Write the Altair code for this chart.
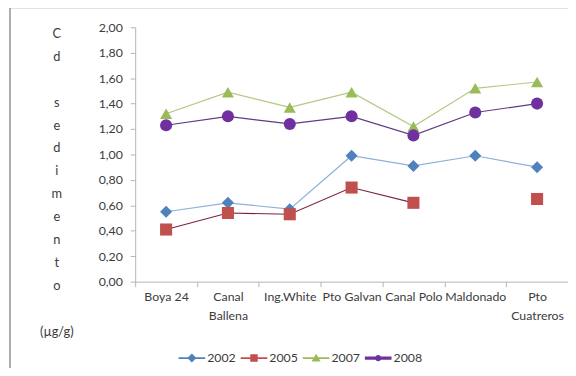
import altair as alt
import pandas as pd

stations = ["Boya 24", "Canal\nBallena", "Ing.White", "Pto Galvan",
            "Canal Polo", "Maldonado", "Pto\nCuatreros"]
years = ["2002", "2005", "2007", "2008"]
v2002 = [0.55, 0.62, 0.57, 0.99, 0.91, 0.99, 0.90]
v2005 = [0.41, 0.54, 0.53, 0.74, 0.62, None, 0.65]
v2007 = [1.32, 1.49, 1.37, 1.49, 1.22, 1.52, 1.57]
v2008 = [1.23, 1.30, 1.24, 1.30, 1.15, 1.33, 1.40]
y_ticks = [0.0, 0.2, 0.4, 0.6, 0.8, 1.0, 1.2, 1.4, 1.6, 1.8, 2.0]
y_title = ["C", "d", "\u2800", "s", "e", "d", "i", "m", "e", "n", "t", "o",
           "\u2800", "(\u00b5g/g)"]

marker_colors = ["#4f81bd", "#c0504d", "#9bbb59", "#7030a0"]
line_colors = ["#8db0d8", "#7d2340", "#b3c883", "#5e3b80"]
shapes = ["diamond", "square", "triangle-up", "circle"]
sizes = [150, 150, 170, 215]

legend_paths = [
    "M-1,-0.07H1V0.07H-1Z M0,-0.34L0.34,0L0,0.34L-0.34,0Z",
    "M-1,-0.07H1V0.07H-1Z M-0.28,-0.28H0.28V0.28H-0.28Z",
    "M-1,-0.07H1V0.07H-1Z M0,-0.32L0.34,0.26H-0.34Z",
    "M-1,-0.12H1V0.12H-1Z M-0.24,0A0.24,0.24 0 1,1 0.24,0A0.24,0.24 0 1,1 -0.24,0Z",
]

rows = []
for yr, vals in zip(years, [v2002, v2005, v2007, v2008]):
    for st, v in zip(stations, vals):
        rows.append({"station": st, "year": yr, "cd": v})
df = pd.DataFrame(rows)

FONT = "Lato, DejaVu Sans"
TXT = "#3c3c3c"
AX = "#b4b4b4"
FS = 12.5

x_enc = alt.X(
    "station:N", sort=stations, bandPosition=0.5,
    scale=alt.Scale(type="band", paddingInner=0, paddingOuter=0),
    axis=alt.Axis(title=None, labelAngle=0, tickBand="extent",
                  labelExpr="split(datum.label, '\\n')",
                  labelLineHeight=19, labelPadding=4, tickSize=5,
                  domainColor=AX, tickColor=AX, labelColor=TXT,
                  labelFontSize=FS, labelFont=FONT),
)
y_enc = alt.Y(
    "cd:Q",
    scale=alt.Scale(domain=[0, 2], nice=False, zero=True),
    axis=alt.Axis(values=y_ticks, grid=False,
                  labelExpr="replace(format(datum.value, '.2f'), '.', ',')",
                  tickSize=5, labelPadding=8,
                  domainColor=AX, tickColor=AX, labelColor=TXT,
                  labelFontSize=FS, labelFont=FONT,
                  title=y_title, titleAngle=0, titleAlign="center",
                  titleBaseline="top", titleX=-80, titleY=0,
                  titleLineHeight=23.3, titleFontWeight="normal",
                  titleFontSize=13, titleFont=FONT, titleColor=TXT),
)

lines = alt.Chart(df).mark_line(
    strokeWidth=1.2, invalid="break-paths-show-domains"
).encode(
    x=x_enc, y=y_enc,
    stroke=alt.Stroke("year:N", scale=alt.Scale(domain=years, range=line_colors),
                      legend=None),
)

points = alt.Chart(df).transform_filter("isValid(datum.cd)").mark_point(
    filled=True, opacity=1
).encode(
    x=x_enc, y=y_enc,
    color=alt.Color("year:N", scale=alt.Scale(domain=years, range=marker_colors),
                    legend=None),
    shape=alt.Shape("year:N", scale=alt.Scale(domain=years, range=shapes), legend=None),
    size=alt.Size("year:N", scale=alt.Scale(domain=years, range=sizes), legend=None),
)

leg = alt.Legend(
    title=None, orient="none", direction="horizontal",
    legendX=44, legendY=322, symbolSize=729, labelOffset=2,
    columnPadding=5, labelFontSize=FS, labelFont=FONT,
    labelColor=TXT, symbolStrokeWidth=0, symbolOpacity=1,
)
legend_layer = alt.Chart(df).transform_filter("false").mark_point(
    filled=True, opacity=1, size=729
).encode(
    color=alt.Color("year:N", scale=alt.Scale(domain=years, range=marker_colors),
                    legend=leg),
    shape=alt.Shape("year:N", scale=alt.Scale(domain=years, range=legend_paths),
                    legend=leg),
)

border = alt.Chart(alt.Data(values=[{}])).mark_rect(
    filled=False, stroke="#8a8a8a", strokeWidth=1.4
).encode(
    x=alt.value(-127), x2=alt.value(460), y=alt.value(-20), y2=alt.value(420)
)

chart = alt.layer(border, lines, points, legend_layer).resolve_scale(
    shape="independent", color="independent"
).properties(
    width=439, height=258,
    padding={"left": 129, "top": 17, "right": 0, "bottom": 85},
    autosize=alt.AutoSizeParams(type="none"),
    background="white",
).configure_view(stroke=None)

chart.save("out.html", embed_options={"renderer": "svg", "actions": False})
